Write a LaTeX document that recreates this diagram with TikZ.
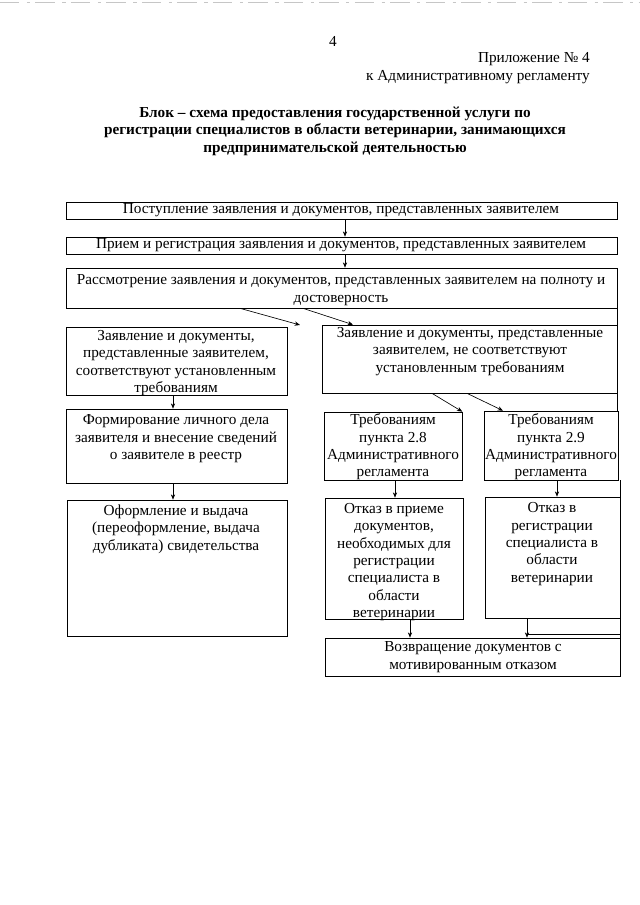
\documentclass[tikz,border=0pt]{standalone}
\usepackage{fontspec}
\setmainfont{Liberation Serif}
\usetikzlibrary{fit,arrows.meta}
\begin{document}
\begin{tikzpicture}[x=0.93pt,y=-0.93pt,
  box/.style={draw, line width=0.6pt, inner sep=0pt},
  txt/.style={font=\fontsize{14.2}{16.2}\selectfont, align=center, inner sep=0pt},
  hdr/.style={font=\fontsize{14.2}{16.2}\selectfont, inner sep=0pt},
  ttl/.style={font=\fontsize{14.2}{16.2}\selectfont\bfseries, align=center, inner sep=0pt},
  arr/.style={-{Stealth[length=5pt,width=4pt]}, line width=0.6pt},
  edge/.style={line width=0.6pt}]
\useasboundingbox (0,0) rectangle (640,905);
\fill[white] (0,0) rectangle (640,905);
\draw[gray!45, line width=0.8pt, dash pattern=on 18pt off 7pt on 3pt off 5pt] (0,2) -- (640,2);

% header
\node[hdr] (pg) at (333,41) {4};
\node[hdr, anchor=east] (h1) at (590,59) {Приложение № 4};
\node[hdr, anchor=east] (h2) at (590,77) {к Административному регламенту};
\node[ttl] (title) at (335,131) {Блок – схема предоставления государственной услуги по\\регистрации специалистов в области ветеринарии, занимающихся\\предпринимательской деятельностью};

% boxes
\node[box, fit={(66,202) (617,219)}] (b1) {};
\node[box, fit={(66,237) (617,254)}] (b2) {};
\node[box, fit={(66,268) (617,308)}] (b3) {};
\node[box, fit={(66,327) (287,395)}] (l1) {};
\node[box, fit={(66,409) (287,483)}] (l2) {};
\node[box, fit={(67,500) (287,636)}] (l3) {};
\node[box, fit={(322,325) (617,393)}] (r1) {};
\node[box, fit={(324,412) (462,480)}] (r2a) {};
\node[box, fit={(484,411) (618,480)}] (r2b) {};
\node[box, fit={(325,498) (463,619)}] (r3a) {};
\node[box, fit={(485,497) (620,618)}] (r3b) {};
\node[box, fit={(325,638) (620,676)}] (r4) {};

% texts
\node[txt] (t1) at (341,210.5) {Поступление заявления и документов, представленных заявителем};
\node[txt] (t2) at (341,245.5) {Прием и регистрация заявления и документов, представленных заявителем};
\node[txt] (t3) at (341,290) {Рассмотрение заявления и документов, представленных заявителем на полноту и\\достоверность};
\node[txt] (tl1) at (176,363) {Заявление и документы,\\представленные заявителем,\\соответствуют установленным\\требованиям};
\node[txt] (tl2) at (176,439) {Формирование личного дела\\заявителя и внесение сведений\\о заявителе в реестр};
\node[txt] (tl3) at (176,529) {Оформление и выдача\\(переоформление, выдача\\дубликата) свидетельства};
\node[txt] (tr1) at (470,351.5) {Заявление и документы, представленные\\заявителем, не соответствуют\\установленным требованиям};
\node[txt] (tr2a) at (393,447) {Требованиям\\пункта 2.8\\Административного\\регламента};
\node[txt] (tr2b) at (551,447) {Требованиям\\пункта 2.9\\Административного\\регламента};
\node[txt] (tr3a) at (394,562) {Отказ в приеме\\документов,\\необходимых для\\регистрации\\специалиста в\\области\\ветеринарии};
\node[txt] (tr3b) at (552,544) {Отказ в\\регистрации\\специалиста в\\области\\ветеринарии};
\node[txt] (tr4) at (473,657) {Возвращение документов с\\мотивированным отказом};

% arrow x positions
\coordinate (xa) at (345,0);
\coordinate (xl) at (173,0);
\coordinate (d1s) at (240,0);
\coordinate (d1e) at (300,325);
\coordinate (d2s) at (303,0);
\coordinate (d2e) at (353,0);
\coordinate (d3s) at (432,0);
\coordinate (d4s) at (467,0);
\coordinate (d4e) at (503,0);
\coordinate (xr2a) at (395,0);
\coordinate (xr2b) at (557,0);
\coordinate (xr3a) at (410,0);
\coordinate (xr3b) at (527,0);

% connectors
\draw[arr] (b1.south -| xa) -- (b2.north -| xa);
\draw[arr] (b2.south -| xa) -- (b3.north -| xa);
\draw[arr] (b3.south -| d1s) -- (d1e);
\draw[arr] (b3.south -| d2s) -- (r1.north -| d2e);
\draw[arr] (l1.south -| xl) -- (l2.north -| xl);
\draw[arr] (l2.south -| xl) -- (l3.north -| xl);
\draw[arr] (r1.south -| d3s) -- (r2a.north east);
\draw[arr] (r1.south -| d4s) -- (r2b.north -| d4e);
\draw[arr] (r2a.south -| xr2a) -- (r3a.north -| xr2a);
\draw[arr] (r2b.south -| xr2b) -- (r3b.north -| xr2b);
\draw[arr] (r3a.south -| xr3a) -- (r4.north -| xr3a);
\draw[arr] (r3b.south -| xr3b) -- (r4.north -| xr3b);

% right-hand edge line
\draw[edge] (b3.south east) -- (r1.north east);
\draw[edge] (r1.south east) -- (r1.south east |- r2b.north);
\draw[edge] (r3b.north east |- r2b.south) -- (r3b.north east);
\draw[edge] (r3b.south east) -- (r4.north east);
\draw[edge] ([yshift=3.5pt]r4.north east) -- ([yshift=3.5pt]r4.north -| xr3b);
\end{tikzpicture}
\end{document}
